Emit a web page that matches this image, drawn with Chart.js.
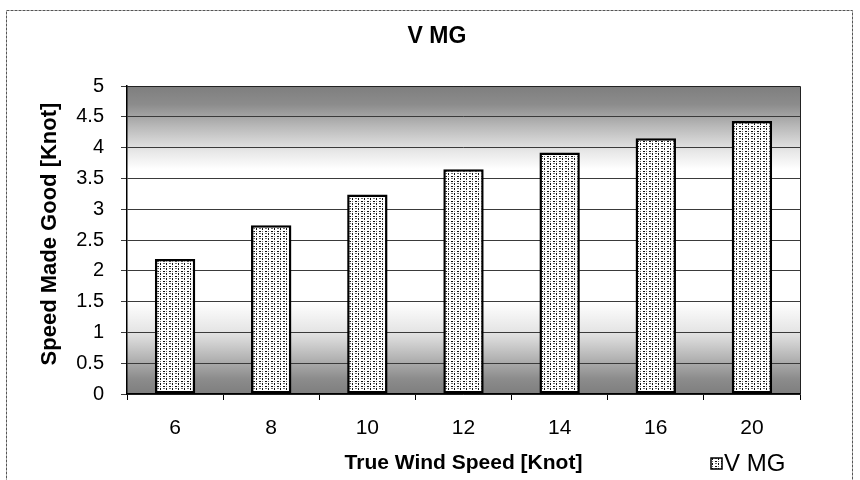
<!DOCTYPE html>
<html>
<head>
<meta charset="utf-8">
<script src="https://cdn.jsdelivr.net/npm/chart.js@4"></script>
<style>
  html, body { margin: 0; padding: 0; background: #ffffff; }
  #wrap { width: 860px; height: 480px; }
</style>
</head>
<body>
<div id="wrap"><canvas id="c" width="860" height="480"></canvas></div>
<script>
// True wind speed categories (knots) and the resulting speed made good (knots)
const windSpeeds = ['6', '8', '10', '12', '14', '16', '20'];
const vmgValues = [2.19, 2.74, 3.24, 3.65, 3.92, 4.15, 4.43];
const seriesName = 'V MG';
const chartTitle = 'V MG';
const xAxisTitle = 'True Wind Speed [Knot]';
const yAxisTitle = 'Speed Made Good [Knot]';
const yMin = 0;
const yMax = 5;
const yStep = 0.5;

const FONT = '"Liberation Sans", Arial, Helvetica, sans-serif';

// Small stippled tile used as the bar fill
function makeStipple() {
  const t = document.createElement('canvas');
  t.width = 6; t.height = 5;
  const g = t.getContext('2d');
  g.fillStyle = '#ffffff';
  g.fillRect(0, 0, 6, 5);
  g.fillStyle = '#111111';
  g.fillRect(1, 1, 2, 1);
  g.fillRect(4, 3, 1, 2);
  g.fillStyle = '#6e6e6e';
  g.fillRect(4, 1, 1, 1);
  g.fillRect(1, 3, 2, 1);
  return g.createPattern(t, 'repeat');
}
const stipple = makeStipple();

// Plot-area fill: grey bands at top and bottom fading to white in the middle
const plotBackground = {
  id: 'plotBackground',
  beforeDraw(chart) {
    const { ctx, chartArea: a } = chart;
    const grad = ctx.createLinearGradient(0, a.top, 0, a.bottom);
    grad.addColorStop(0.00, '#7e7e7e');
    grad.addColorStop(0.06, '#8c8c8c');
    grad.addColorStop(0.13, '#b8b8b8');
    grad.addColorStop(0.21, '#e6e6e6');
    grad.addColorStop(0.27, '#ffffff');
    grad.addColorStop(0.70, '#ffffff');
    grad.addColorStop(0.80, '#e4e4e4');
    grad.addColorStop(0.88, '#b6b6b6');
    grad.addColorStop(0.95, '#8c8c8c');
    grad.addColorStop(1.00, '#7e7e7e');
    ctx.save();
    ctx.fillStyle = grad;
    ctx.fillRect(a.left, a.top, a.right - a.left, a.bottom - a.top);
    ctx.restore();
  }
};

// Frame, titles and legend
const decorations = {
  id: 'decorations',
  afterDraw(chart) {
    const { ctx, chartArea: a } = chart;
    ctx.save();

    // plot-area top and right edges
    ctx.strokeStyle = '#222';
    ctx.lineWidth = 1;
    ctx.beginPath();
    ctx.moveTo(a.left, a.top + 0.5);
    ctx.lineTo(a.right + 0.5, a.top + 0.5);
    ctx.lineTo(a.right + 0.5, a.bottom);
    ctx.stroke();

    // outer chart frame
    ctx.strokeStyle = '#555';
    ctx.setLineDash([3, 1]);
    ctx.strokeRect(6.5, 10.5, 846, 480);
    ctx.setLineDash([]);

    ctx.fillStyle = '#000';
    ctx.textBaseline = 'middle';
    ctx.textAlign = 'center';

    // chart title
    ctx.font = 'bold 23px ' + FONT;
    ctx.fillText(chartTitle, 437, 37);

    // x-axis title, centred under the plot area
    ctx.font = 'bold 21px ' + FONT;
    ctx.fillText(xAxisTitle, (a.left + a.right) / 2, 463);

    // y-axis title
    ctx.font = 'bold 22px ' + FONT;
    ctx.save();
    ctx.translate(50, 234);
    ctx.rotate(-Math.PI / 2);
    ctx.fillText(yAxisTitle, 0, 0);
    ctx.restore();

    // legend
    const bx = 711, by = 458, bs = 11;
    ctx.fillStyle = stipple;
    ctx.fillRect(bx, by, bs, bs);
    ctx.strokeStyle = '#000';
    ctx.lineWidth = 1.5;
    ctx.strokeRect(bx, by, bs, bs);
    ctx.fillStyle = '#000';
    ctx.textAlign = 'left';
    ctx.font = '24px ' + FONT;
    ctx.fillText(chart.data.datasets[0].label, bx + 13, 464);

    ctx.restore();
  }
};

new Chart(document.getElementById('c'), {
  type: 'bar',
  data: {
    labels: windSpeeds,
    datasets: [{
      label: seriesName,
      data: vmgValues,
      backgroundColor: stipple,
      borderColor: '#000',
      borderWidth: 2.5,
      borderSkipped: false,
      barPercentage: 0.42,
      categoryPercentage: 1.0
    }]
  },
  options: {
    responsive: false,
    animation: false,
    devicePixelRatio: 1,
    layout: { padding: { left: 0, top: 86, right: 60, bottom: 0 } },
    plugins: {
      legend: { display: false },
      title: { display: false },
      tooltip: { enabled: false }
    },
    scales: {
      x: {
        afterFit(scale) { scale.height = 86; },
        grid: {
          offset: true,
          drawOnChartArea: false,
          drawTicks: true,
          tickLength: 6,
          color: '#000'
        },
        border: { color: '#000', width: 1.5 },
        ticks: {
          color: '#000',
          padding: 16,
          font: { family: FONT, size: 21 }
        }
      },
      y: {
        min: yMin,
        max: yMax,
        afterFit(scale) { scale.width = 127; },
        grid: {
          color: '#3a3a3a',
          lineWidth: 1,
          drawTicks: true,
          tickLength: 6
        },
        border: { color: '#000', width: 1.5 },
        ticks: {
          stepSize: yStep,
          color: '#000',
          padding: 17,
          font: { family: FONT, size: 20 },
          callback: (v) => String(Number(v))
        }
      }
    }
  },
  plugins: [plotBackground, decorations]
});
</script>
</body>
</html>
